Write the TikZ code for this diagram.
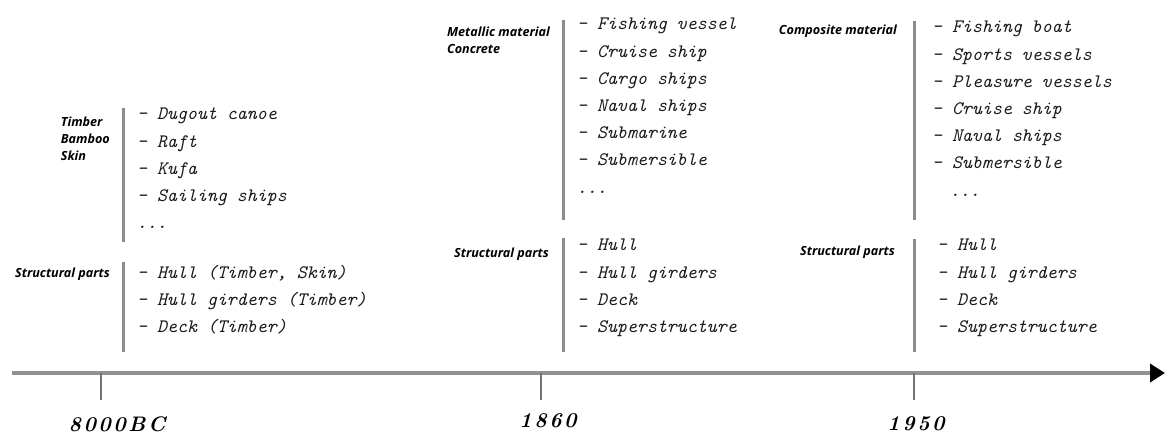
\documentclass[tikz,border=0pt]{standalone}
\usepackage{fontspec}
\usetikzlibrary{arrows.meta}
\newfontfamily\labelfont{Open Sans}
\newfontfamily\yearfont[LetterSpace=12]{Latin Modern Roman}

\tikzset{
  item/.style={font=\ttfamily\itshape\fontsize{19}{27.2}\selectfont, text=black!90,
    align=left, inner sep=0pt, anchor=north west, execute at begin node={\rule{0pt}{15pt}}},
  material/.style={font=\labelfont\bfseries\itshape\fontsize{12.6}{17}\selectfont,
    align=left, inner sep=0pt},
  year/.style={font=\yearfont\bfseries\itshape\fontsize{21}{24}\selectfont, inner sep=0pt, anchor=base},
  bar/.style={draw=black!45, line width=3pt},
  tick/.style={draw=black!55, line width=2pt},
  axis/.style={draw=black!43, line width=4pt, -{Triangle[length=15pt,width=18pt,black]}}
}

\begin{document}
\begin{tikzpicture}[x=1pt,y=-1pt]
\useasboundingbox (0,0) rectangle (1165,434);

% time axis
\coordinate (axisL) at (12,373);
\coordinate (axisR) at (1165,373);
\draw [axis] (axisL) -- (axisR);

\coordinate (t8000) at (101,373);
\coordinate (t1860) at (541,373);
\coordinate (t1950) at (914,373);
\draw [tick] (t8000) -- ++(0,27);
\draw [tick] (t1860) -- ++(0,27);
\draw [tick] (t1950) -- ++(0,27);

\path (117,431) node (y8000) [year] {8000BC};
\path (548,427) node (y1860) [year] {1860};
\path (916,430) node (y1950) [year] {1950};

% before 1860
\draw [bar] (123,108) -- (123,242);
\draw [bar] (123,262) -- (123,352);
\path (110,117) node (timber) [material, anchor=north east] {Timber\\Bamboo\\Skin};
\path (110,277) node (structL) [material, anchor=base east] {Structural parts};
\path (137,108) node (woodShips) [item] {- Dugout canoe\\- Raft\\- Kufa\\- Sailing ships\\...};
\path (137,265) node (woodParts) [item] {- Hull (Timber, Skin)\\- Hull girders (Timber)\\- Deck (Timber)};

% 1860
\draw [bar] (563,20) -- (563,220);
\draw [bar] (563,238) -- (563,352);
\path (550,27) node (metal) [material, anchor=north east] {Metallic material\\Concrete};
\path (549,257) node (structM) [material, anchor=base east] {Structural parts};
\path (577,18) node (metalShips) [item] {- Fishing vessel\\- Cruise ship\\- Cargo ships\\- Naval ships\\- Submarine\\- Submersible\\...};
\path (577,239) node (metalParts) [item] {- Hull\\- Hull girders\\- Deck\\- Superstructure};

% 1950
\draw [bar] (914,21) -- (914,220);
\draw [bar] (914,239) -- (914,352);
\path (897,34) node (composite) [material, anchor=base east] {Composite material};
\path (895,255) node (structR) [material, anchor=base east] {Structural parts};
\path (932,21) node (compShips) [item] {- Fishing boat\\- Sports vessels\\- Pleasure vessels\\- Cruise ship\\- Naval ships\\- Submersible\\\hspace*{18pt}...};
\path (937,239) node (compParts) [item] {- Hull\\- Hull girders\\- Deck\\- Superstructure};

\end{tikzpicture}
\end{document}
